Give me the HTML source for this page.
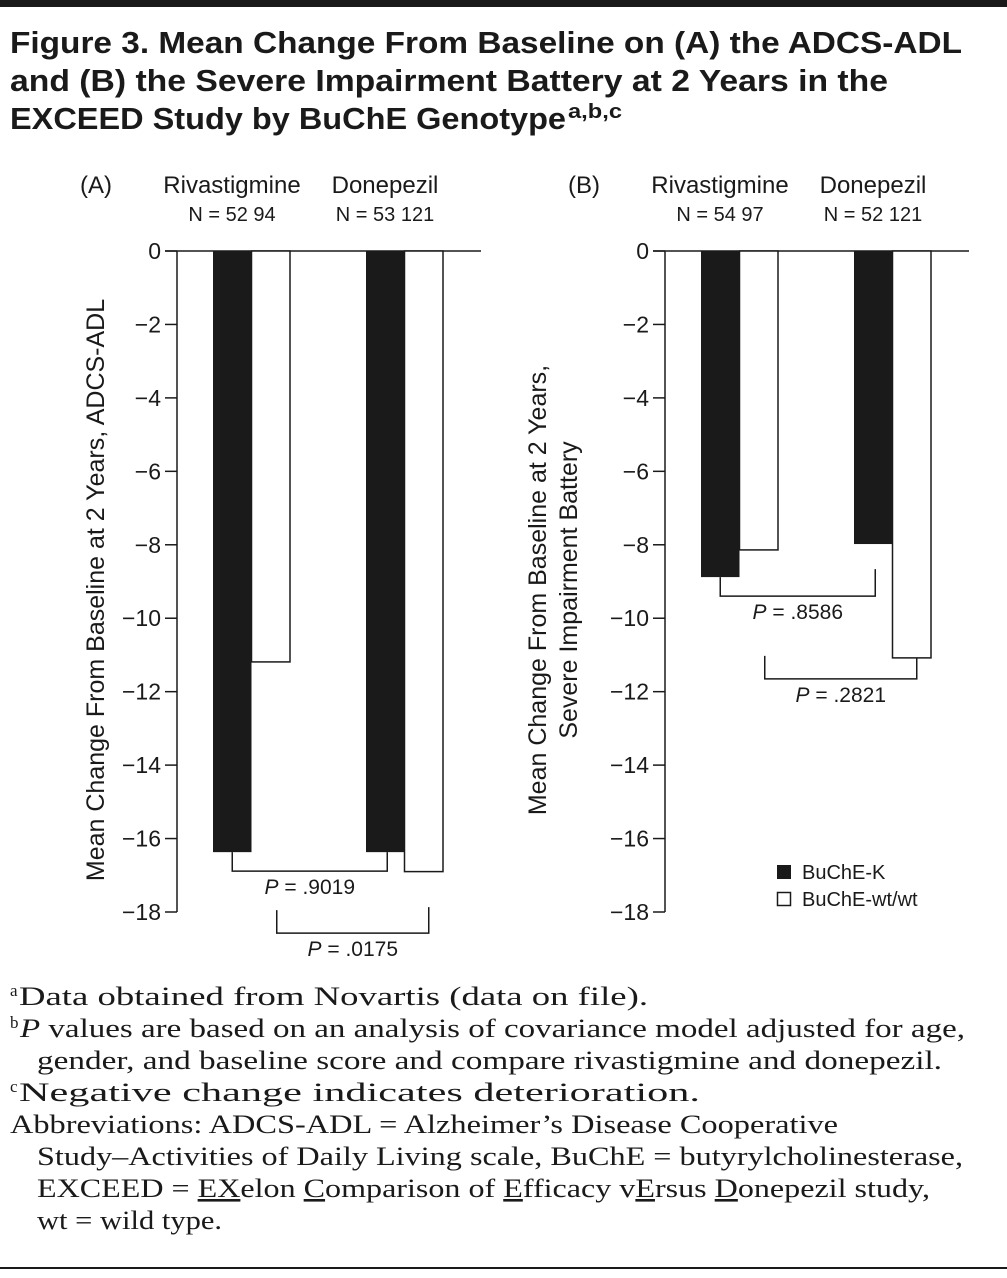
<!DOCTYPE html>
<html><head><meta charset="utf-8"><style>
body{margin:0;background:#fff;width:1007px;height:1273px;overflow:hidden}
svg text{font-family:"Liberation Sans",sans-serif;fill:#1a1a1a}
svg text.serif{font-family:"Liberation Serif",serif}
</style></head><body>
<svg id="fig" width="1007" height="1273" xmlns="http://www.w3.org/2000/svg">
<rect x="0" y="0" width="1007" height="7" fill="#1a1a1a"/>
<g font-weight="bold" font-size="31">
<text x="10" y="53" textLength="952" lengthAdjust="spacingAndGlyphs">Figure 3. Mean Change From Baseline on (A) the ADCS-ADL</text>
<text x="10" y="91" textLength="878" lengthAdjust="spacingAndGlyphs">and (B) the Severe Impairment Battery at 2 Years in the</text>
<text x="10" y="129" textLength="556" lengthAdjust="spacingAndGlyphs">EXCEED Study by BuChE Genotype</text>
<text x="568" y="118" font-size="20" textLength="54" lengthAdjust="spacingAndGlyphs">a,b,c</text>
</g>
<g id="plots"></g>
<g>
<rect x="777" y="865" width="14" height="14" fill="#1a1a1a"/>
<text x="802" y="879" font-size="20">BuChE-K</text>
<rect x="777.5" y="892.5" width="13" height="13" fill="#fff" stroke="#1a1a1a" stroke-width="1.5"/>
<text x="802" y="906" font-size="20">BuChE-wt/wt</text>
</g>
<g font-size="26">
<text class="serif" x="10" y="996" font-size="17">a</text>
<text class="serif" x="19" y="1005" textLength="629" lengthAdjust="spacingAndGlyphs">Data obtained from Novartis (data on file).</text>
<text class="serif" x="10" y="1028" font-size="17">b</text>
<text class="serif" x="20" y="1037" textLength="945" lengthAdjust="spacingAndGlyphs"><tspan font-style="italic">P</tspan> values are based on an analysis of covariance model adjusted for age,</text>
<text class="serif" x="37" y="1069" textLength="905" lengthAdjust="spacingAndGlyphs">gender, and baseline score and compare rivastigmine and donepezil.</text>
<text class="serif" x="10" y="1092" font-size="17">c</text>
<text class="serif" x="19" y="1101" textLength="681" lengthAdjust="spacingAndGlyphs">Negative change indicates deterioration.</text>
<text class="serif" x="10" y="1133" textLength="828" lengthAdjust="spacingAndGlyphs">Abbreviations: ADCS-ADL = Alzheimer’s Disease Cooperative</text>
<text class="serif" x="37" y="1165" textLength="926" lengthAdjust="spacingAndGlyphs">Study–Activities of Daily Living scale, BuChE = butyrylcholinesterase,</text>
<text class="serif" x="37" y="1197" textLength="893" lengthAdjust="spacingAndGlyphs">EXCEED = <tspan text-decoration="underline">EX</tspan>elon <tspan text-decoration="underline">C</tspan>omparison of <tspan text-decoration="underline">E</tspan>fficacy v<tspan text-decoration="underline">E</tspan>rsus <tspan text-decoration="underline">D</tspan>onepezil study,</text>
<text class="serif" x="37" y="1229" textLength="185" lengthAdjust="spacingAndGlyphs">wt = wild type.</text>
</g>
<rect x="0" y="1267" width="1007" height="2" fill="#1a1a1a"/>
</svg>
<script>
const ticks=[0,-2,-4,-6,-8,-10,-12,-14,-16,-18];
const tickLabels=['0','−2','−4','−6','−8','−10','−12','−14','−16','−18'];
const groups=['Rivastigmine','Donepezil'];
const seriesNames=['BuChE-K','BuChE-wt/wt'];
const adlK=[-16.37,-16.37];
const adlWt=[-11.19,-16.9];
const adlN=['N = 52  94','N = 53  121'];
const sibK=[-8.88,-7.98];
const sibWt=[-8.14,-11.08];
const sibN=['N = 54  97','N = 52  121'];
const adlP=['.9019','.0175'];
const sibP=['.8586','.2821'];
const NS='http://www.w3.org/2000/svg';
const root=document.getElementById('plots');
function mk(tag,attrs,parent,txt){const e=document.createElementNS(NS,tag);for(const k in attrs)e.setAttribute(k,attrs[k]);if(txt!==undefined)e.textContent=txt;parent.appendChild(e);return e;}
function y(v){return 251+(-v)*(661/18);}
function panel(ox,label,K,W,N,P,titleLines,tx){
  const g=mk('g',{},root);
  
  
  const ax=ox+177;
  const pl=mk('text',{x:ax-97,y:193,'font-size':24},g,'('+label+')');
  
  
  const yl=mk('line',{x1:ax,y1:y(0),x2:ax,y2:y(-18),stroke:'#1a1a1a','stroke-width':1.5},g);
  
  
  const xl=mk('line',{x1:ax-12,y1:y(0),x2:ox+481,y2:y(0),stroke:'#1a1a1a','stroke-width':1.5},g);
  
  
  ticks.forEach((t,i)=>{
    const tl=mk('line',{x1:ax-12,y1:y(t),x2:ax,y2:y(t),stroke:'#1a1a1a','stroke-width':1.5},g);
    
    
    const tt=mk('text',{x:ax-16,y:y(t)+8,'font-size':23,'text-anchor':'end'},g,tickLabels[i]);
    
    
  });
  const gx=[ox+213,ox+366];
  const bw=38.5;
  groups.forEach((gn,i)=>{
    const c=gx[i]+19;
    const gt=mk('text',{x:c,y:193,'font-size':24,'text-anchor':'middle'},g,gn);
    
    
    const nt=mk('text',{x:c,y:221,'font-size':20,'text-anchor':'middle','xml:space':'preserve'},g,N[i]);
    
    
    const b1=mk('rect',{x:gx[i],y:y(0),width:bw,height:y(K[i])-y(0),fill:'#1a1a1a'},g);
    
    
    const b2=mk('rect',{x:gx[i]+bw,y:y(0),width:bw,height:y(W[i])-y(0),fill:'#fff',stroke:'#1a1a1a','stroke-width':1.5},g);
    
    
  });
  function bracket(x1,x2,t1,t2,by,ptxt,name){
    const p=mk('polyline',{points:`${x1},${t1} ${x1},${by} ${x2},${by} ${x2},${t2}`,fill:'none',stroke:'#1a1a1a','stroke-width':1.5},g);
    
    
    const t=mk('text',{x:(x1+x2)/2,y:by+23,'font-size':21,'text-anchor':'middle'},g);
    
    
    mk('tspan',{'font-style':'italic'},t,'P');
    mk('tspan',{},t,' = '+ptxt);
  }
  const yk0=y(K[0]),yk1=y(K[1]);
  const kb=yk0+19;
  bracket(gx[0]+bw/2,gx[1]+bw/2+2,yk0,Math.max(yk1,kb-27),kb,P[0],'p-bracket-buche-k');
  const yw1=y(W[1]);
  const wb=Math.max(yw1+21,kb+62);
  bracket(gx[0]+bw*1.5+6,gx[1]+bw*1.5+5,wb-23,Math.max(yw1,wb-26),wb,P[1],'p-bracket-buche-wt');
  const at=mk('text',{transform:`translate(${tx},${590}) rotate(-90)`,'font-size':25,'text-anchor':'middle'},g);
  
  
  titleLines.forEach((l,i)=>{mk('tspan',{x:0,dy:i?31:0},at,l);});
}
panel(0,'A',adlK,adlWt,adlN,adlP,['Mean Change From Baseline at 2 Years, ADCS-ADL'],104);
panel(488,'B',sibK,sibWt,sibN,sibP,['Mean Change From Baseline at 2 Years,','Severe Impairment Battery'],546);
</script>
</body></html>
